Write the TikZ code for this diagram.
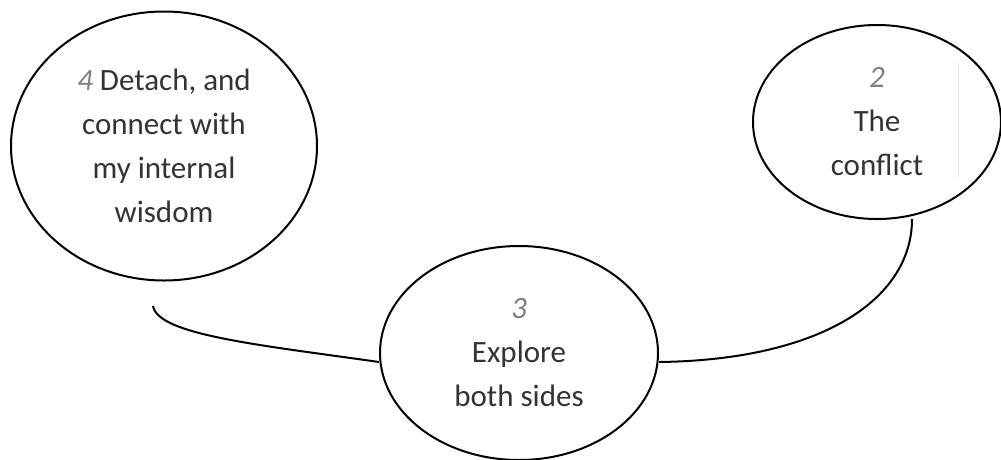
\documentclass[tikz,border=0pt]{standalone}
\usepackage{fontspec}
\setmainfont{Carlito}
\usetikzlibrary{shapes.geometric}
\definecolor{inktext}{HTML}{333333}
\definecolor{stepnum}{HTML}{7F7F7F}
\tikzset{
  bubble/.style={draw=black, line width=2pt, ellipse, inner sep=0pt,
    align=center, text=inktext, font={\fontsize{31}{44}\selectfont}},
  link/.style={draw=black, line width=2pt}
}
\newcommand{\stepno}[1]{{\color{stepnum}\itshape #1}}
\begin{document}
\begin{tikzpicture}[x=1pt,y=-1pt]
  \useasboundingbox (0,0) rectangle (1001,459);
  % three stages of the process
  \node[bubble, minimum width=306pt, minimum height=269pt] (detach) at (164,146)
    {\stepno{4} Detach, and\\connect with\\my internal\\wisdom};
  \node[bubble, minimum width=248pt, minimum height=194pt] (conflict) at (877,122)
    {\stepno{2}\\The\\conflict};
  \node[bubble, minimum width=278pt, minimum height=214pt] (explore) at (519,353)
    {\stepno{3}\\Explore\\both sides};
  % faint text-frame edge inside the right bubble
  \draw[gray!20, line width=0.6pt] (958,63) -- (958,177);
  % curved links between the stages
  \coordinate (tailA) at (153,306);
  \coordinate (tailB) at (912,219);
  \draw[link] (tailA) .. controls (158,335) and (260,345) .. (explore.west |- 0,362);
  \draw[link] (explore.east |- 0,362) .. controls (820,360) and (912,300) .. (tailB);
\end{tikzpicture}
\end{document}
